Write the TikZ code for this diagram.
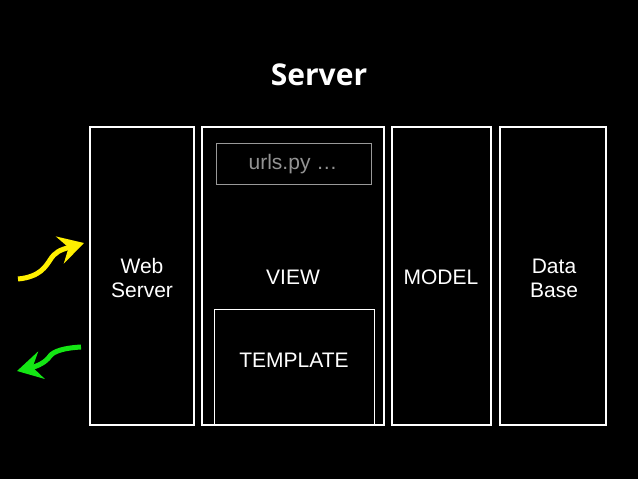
\documentclass[tikz,border=0pt]{standalone}
\usepackage{fontspec}
\setmainfont{Liberation Sans}
\newfontfamily\titlefont{Open Sans}
\usetikzlibrary{arrows.meta}
\definecolor{arrowgreen}{RGB}{20,230,20}
\definecolor{arrowyellow}{RGB}{255,240,0}
\begin{document}
\begin{tikzpicture}[x=1pt,y=-1pt,
  box/.style={draw=white, line width=1.2pt, inner sep=0pt},
  inbox/.style={draw=white, line width=1pt, inner sep=0pt},
  lbl/.style={text=white, font=\fontsize{21}{24}\selectfont, align=center},
  flow/.style={line width=5pt, -{Stealth[length=25pt,width=28pt,inset=9pt]}}]
\fill[black] (0,0) rectangle (638,479);
\useasboundingbox (0,0) rectangle (638,479);
\node[text=white, font=\titlefont\bfseries\fontsize{30}{34}\selectfont] (title) at (319,75) {Server};
% columns
\node[box, minimum width=104pt, minimum height=298pt] (web) at (142,276) {};
\node[box, minimum width=182pt, minimum height=298pt] (view) at (293,276) {};
\node[box, minimum width=99pt, minimum height=298pt] (model) at (441.5,276) {};
\node[box, minimum width=106pt, minimum height=298pt] (db) at (553,276) {};
\node[draw=gray!80, line width=1pt, minimum width=155pt, minimum height=41pt, inner sep=0pt] (urls) at (293.5,163.5) {};
\node[inbox, minimum width=160pt, minimum height=116pt] (tpl) at (294,367) {};
% labels
\node[lbl] (webl) at (142,278) {Web\\Server};
\node[lbl] (viewl) at (293,277) {VIEW};
\node[lbl] (modell) at (441,277) {MODEL};
\node[lbl] (dbl) at (554,278) {Data\\Base};
\node[lbl] (tpll) at (294,360) {TEMPLATE};
\node[lbl, text=gray!85] (urlsl) at (293,164) {urls.py …};
% arrows
\coordinate (yin) at (18,279);
\coordinate (yout) at (84,243);
\coordinate (gin) at (81,347);
\coordinate (gout) at (17,371);
\draw[flow, arrowyellow] (yin) .. controls (40,277) and (46,266) .. (50,260) .. controls (55,252) and (60,250) .. (yout);
\draw[flow, arrowgreen] (gin) .. controls (64,348) and (54,351) .. (50,356) .. controls (46,362) and (38,366) .. (gout);
\end{tikzpicture}
\end{document}
